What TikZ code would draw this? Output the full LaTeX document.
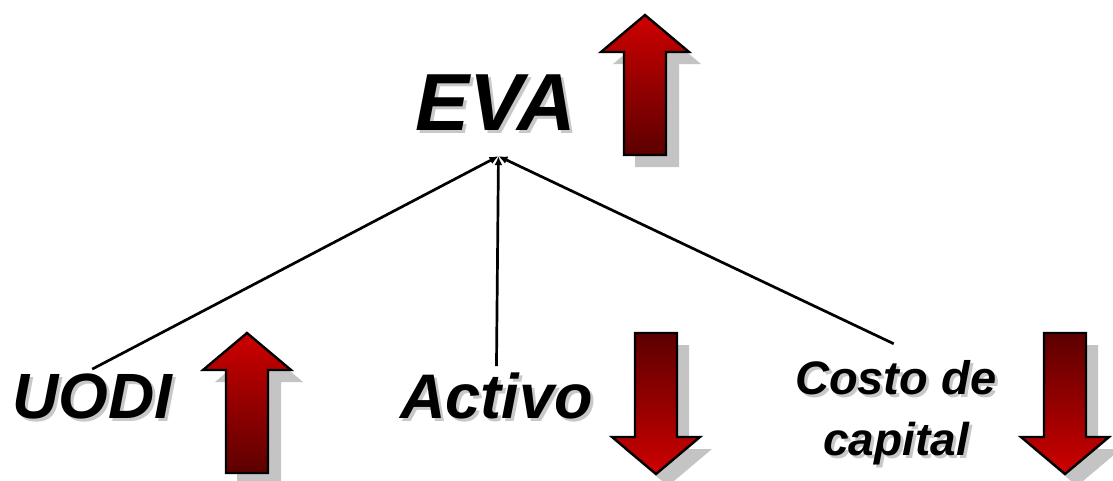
\documentclass[tikz,border=0pt]{standalone}
\usepackage{fontspec}
\setmainfont{Liberation Sans}
\usetikzlibrary{arrows.meta,calc}
\definecolor{arrowred}{RGB}{206,0,0}
\definecolor{arrowdark}{RGB}{92,0,0}
\definecolor{shadowgray}{RGB}{196,196,196}
\definecolor{textshadow}{RGB}{200,200,200}
% text with a soft drop shadow behind it
\newcommand\shadowed[1]{\makebox[0pt][l]{\kern3pt\raisebox{-3pt}{\textcolor{textshadow}{#1}}}#1}
\tikzset{
  lbl/.style={inner sep=0pt, anchor=base west},
  conn/.style={line width=2.7pt, draw=black, -{Latex[length=9pt,width=8pt]}},
  % fat arrow pointing up, tip at the pic origin (y grows downward)
  uparr/.pic={
    \fill[shadowgray] (12,12) -- (56,49) -- (34,49) -- (34,152) -- (-10,152) -- (-10,49) -- (-32,49) -- cycle;
    \draw[line width=2.4pt, line join=miter, top color=arrowred, bottom color=arrowdark]
      (0,0) -- (44,37) -- (21,37) -- (21,140) -- (-21,140) -- (-21,37) -- (-44,37) -- cycle;
  },
  % fat arrow pointing down, tip at the pic origin
  downarr/.pic={
    \fill[shadowgray] (12,12) -- (56,-25) -- (33,-25) -- (33,-129) -- (-9,-129) -- (-9,-25) -- (-32,-25) -- cycle;
    \draw[line width=2.4pt, line join=miter, top color=arrowdark, bottom color=arrowred]
      (0,0) -- (44,-37) -- (21,-37) -- (21,-141) -- (-21,-141) -- (-21,-37) -- (-44,-37) -- cycle;
  },
}
\begin{document}
\begin{tikzpicture}[x=1pt,y=-1pt]
\useasboundingbox[fill=white] (0,0) rectangle (1113,480);

% labels
\node[lbl, font=\fontsize{81}{82}\selectfont\bfseries\itshape] (eva) at (415,130) {\shadowed{EVA}};
\node[lbl, font=\fontsize{64}{66}\selectfont\bfseries\itshape] (uodi) at (12,418) {\shadowed{UODI}};
\node[lbl, font=\fontsize{63}{66}\selectfont\bfseries\itshape] (activo) at (400,418) {\shadowed{Activo}};
\node[lbl, font=\fontsize{47}{48}\selectfont\bfseries\itshape] (costo) at (795,394) {\shadowed{Costo de}};
\node[lbl, font=\fontsize{46}{48}\selectfont\bfseries\itshape] (capital) at (823,455) {\shadowed{capital}};

% up / down indicators
\pic (eva-up) at (645,15) {uparr};
\pic (uodi-up) at (247,333) {uparr};
\pic (activo-down) at (656,474) {downarr};
\pic (costo-down) at (1065,474) {downarr};

% connectors into EVA
\coordinate (eva-in) at ($(eva.south)+(3,23)$);
\draw[conn] ($(uodi.north)+(0,-4)$) -- (eva-in);
\draw[conn] ($(activo.north)+(0,-6)$) -- (eva-in);
\draw[conn] ($(costo.north)+(-2,-16)$) -- (eva-in);
\end{tikzpicture}
\end{document}
